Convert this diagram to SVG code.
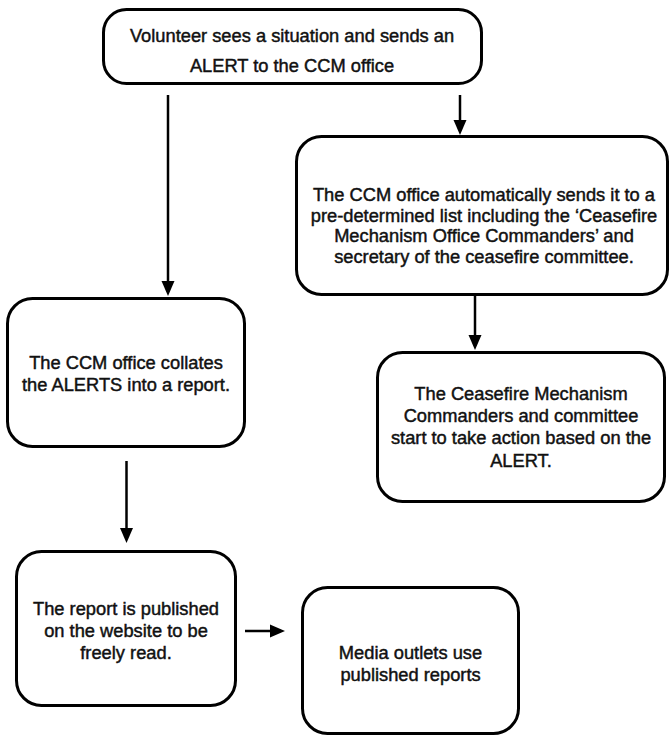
<svg xmlns="http://www.w3.org/2000/svg" width="670" height="736" viewBox="0 0 670 736">
  <defs>
    <style>
      .box { fill: #ffffff; stroke: #000000; stroke-width: 3; }
      .lbl { font-family: "Liberation Sans", Arial, Helvetica, sans-serif; font-size: 18.3px; font-weight: normal; fill: #111111; stroke: #111111; stroke-width: 0.45; text-anchor: middle; }
      .conn { stroke: #000000; stroke-width: 2.5; fill: none; marker-end: url(#ah); }
    </style>
    <marker id="ah" markerUnits="userSpaceOnUse" markerWidth="15" markerHeight="14" refX="11" refY="7" orient="auto">
      <path d="M0,0.5 L15,7 L0,13.5 Z" fill="#000000"/>
    </marker>
  </defs>
  <rect width="670" height="736" fill="#ffffff"/>

  <g id="n1">
    <rect class="box" x="103.5" y="9.5" width="378" height="74" rx="23" ry="23"/>
    <text class="lbl" x="292" y="42">Volunteer sees a situation and sends an</text>
    <text class="lbl" x="292" y="72">ALERT to the CCM office</text>
  </g>

  <g id="n2">
    <rect class="box" x="296.5" y="136.5" width="371" height="158" rx="25" ry="25"/>
    <text class="lbl" x="484" y="201">The CCM office automatically sends it to a</text>
    <text class="lbl" x="484" y="221.7">pre-determined list including the ‘Ceasefire</text>
    <text class="lbl" x="484" y="242.4">Mechanism Office Commanders’ and</text>
    <text class="lbl" x="484" y="263">secretary of the ceasefire committee.</text>
  </g>

  <g id="n3">
    <rect class="box" x="377.5" y="352.5" width="287" height="149" rx="25" ry="25"/>
    <text class="lbl" x="521" y="400">The Ceasefire Mechanism</text>
    <text class="lbl" x="521" y="422">Commanders and committee</text>
    <text class="lbl" x="521" y="444">start to take action based on the</text>
    <text class="lbl" x="521" y="466.5">ALERT.</text>
  </g>

  <g id="n4">
    <rect class="box" x="7.5" y="298.5" width="237" height="148" rx="25" ry="25"/>
    <text class="lbl" x="126" y="368.5">The CCM office collates</text>
    <text class="lbl" x="126" y="391">the ALERTS into a report.</text>
  </g>

  <g id="n5">
    <rect class="box" x="16.5" y="551.5" width="219" height="154" rx="25" ry="25"/>
    <text class="lbl" x="126" y="614.5">The report is published</text>
    <text class="lbl" x="126" y="637">on the website to be</text>
    <text class="lbl" x="126" y="659">freely read.</text>
  </g>

  <g id="n6">
    <rect class="box" x="302.5" y="587.5" width="216" height="146" rx="25" ry="25"/>
    <text class="lbl" x="410.5" y="659">Media outlets use</text>
    <text class="lbl" x="410.5" y="681">published reports</text>
  </g>

  <g id="connectors">
    <line class="conn" x1="168" y1="95" x2="168" y2="292"/>
    <line class="conn" x1="460" y1="95" x2="460" y2="131"/>
    <line class="conn" x1="475" y1="295" x2="475" y2="346"/>
    <line class="conn" x1="126.5" y1="461" x2="126.5" y2="539"/>
    <line class="conn" x1="245" y1="631" x2="281" y2="631"/>
  </g>
</svg>
